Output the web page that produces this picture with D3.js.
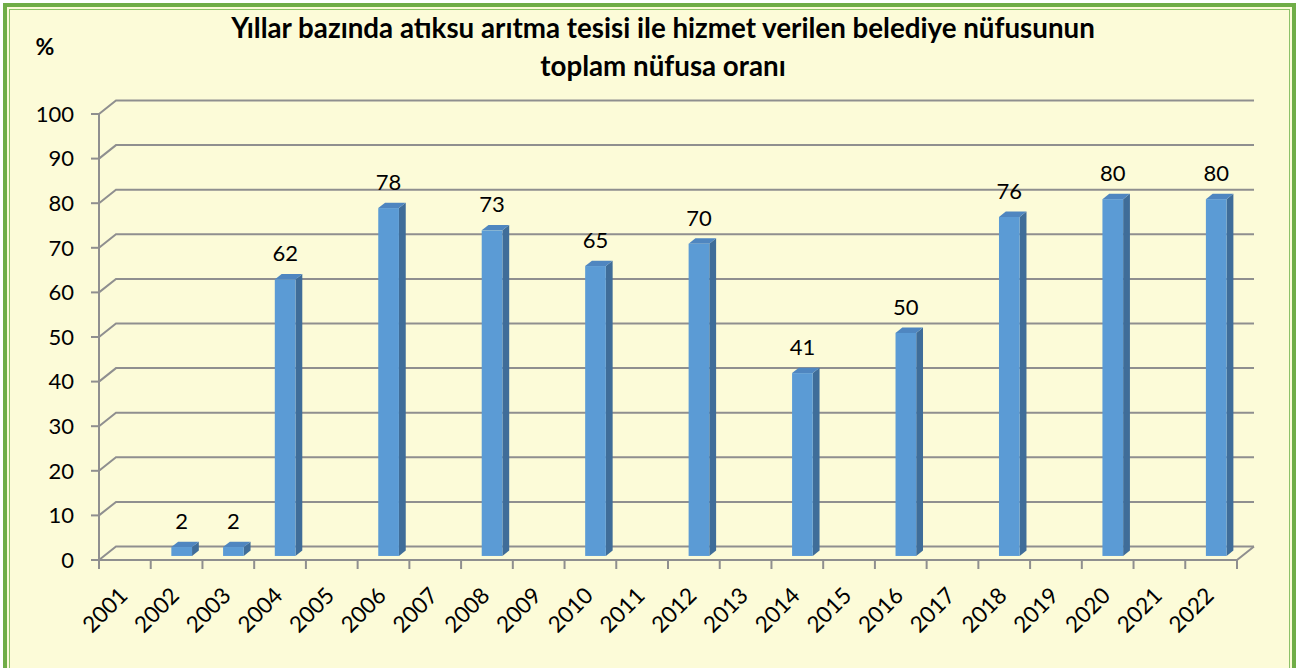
<!DOCTYPE html>
<html lang="tr">
<head>
<meta charset="utf-8">
<script src="https://cdn.jsdelivr.net/npm/d3@7"></script>
<style>
    body { margin: 0; background: #ffffff; }
    svg text { font-family: Lato, "Open Sans", sans-serif; fill: #000; }
</style>
</head>
<body>
<div id="chart"></div>
<script>
// Veri
const years = ['2001', '2002', '2003', '2004', '2005', '2006', '2007', '2008', '2009', '2010', '2011',
    '2012', '2013', '2014', '2015', '2016', '2017', '2018', '2019', '2020', '2021', '2022'];
const barYears = ['2002', '2003', '2004', '2006', '2008', '2010', '2012', '2014', '2016', '2018', '2020', '2022'];
const barValues = [2, 2, 62, 78, 73, 65, 70, 41, 50, 76, 80, 80];
const yTicks = [0, 10, 20, 30, 40, 50, 60, 70, 80, 90, 100];
const titleLines = ['Yıllar bazında atıksu arıtma tesisi ile hizmet verilen belediye nüfusunun', 'toplam nüfusa oranı'];
const yLabel = '%';

class Bar3D {
    constructor(_config, _data) {
        this.config = {
            parentElement: _config.parentElement,
            containerWidth: _config.containerWidth || 1301,
            containerHeight: _config.containerHeight || 668,
            plot: _config.plot || { left: 99, right: 1237, top: 114, bottom: 560 },
            depth: _config.depth || { dx: 17, dy: -13.5 }
        }
        this.data = _data;
        this.initVis();
    }

    initVis() {
        let vis = this;
        const p = vis.config.plot;

        vis.xScale = d3.scaleBand()
            .domain(years)
            .range([p.left, p.right]);

        vis.yScale = d3.scaleLinear()
            .domain([0, 100])
            .range([p.bottom, p.top]);

        vis.svg = d3.select(vis.config.parentElement)
            .append('svg')
            .attr('width', vis.config.containerWidth)
            .attr('height', vis.config.containerHeight);

        // arka plan + cerceve
        vis.svg.append('rect')
            .attr('x', 5).attr('y', 5)
            .attr('width', 1289).attr('height', 700)
            .attr('fill', '#fcfbd8')
            .attr('stroke', '#70ad47')
            .attr('stroke-width', 4);
        vis.svg.append('rect')
            .attr('x', 9.5).attr('y', 9.5)
            .attr('width', 1280).attr('height', 700)
            .attr('fill', 'none')
            .attr('stroke', '#8cc168')
            .attr('stroke-width', 1);

        vis.chart = vis.svg.append('g');

        // Baslik
        vis.title = vis.svg.append('g');
        titleLines.forEach((t, i) => {
            vis.title.append('text')
                .attr('x', 663)
                .attr('y', 38 + i * 38)
                .attr('text-anchor', 'middle')
                .attr('font-weight', 'bold')
                .attr('font-size', 21)
                .text(t);
        });
        // ilk satiri 864px genislige oturt
        const first = vis.title.select('text').node();
        const fs = 21 * 864 / first.getComputedTextLength();
        vis.title.selectAll('text').attr('font-size', fs);

        vis.svg.append('text')
            .attr('x', 45)
            .attr('y', 55)
            .attr('text-anchor', 'middle')
            .attr('font-weight', 'bold')
            .attr('font-size', 23)
            .text(yLabel);
    }

    updateVis() {
        let vis = this;
        vis.xValue = d => d.year;
        vis.yValue = d => d.value;
        vis.renderVis();
    }

    renderVis() {
        let vis = this;
        const p = vis.config.plot;
        const dx = vis.config.depth.dx, dy = vis.config.depth.dy;
        const grid = '#8f8f8f';

        // Yatay izgara (sol duvar + arka duvar)
        const gridG = vis.chart.append('g');
        gridG.selectAll('.grid')
            .data(yTicks)
            .join('path')
            .attr('class', 'grid')
            .attr('fill', 'none')
            .attr('stroke', grid)
            .attr('stroke-width', 2)
            .attr('d', d => {
                const y = vis.yScale(d);
                return `M${p.left},${y}L${p.left + dx},${y + dy}L${p.right + dx},${y + dy}`;
            });

        // Taban: on kenar ve sag kenar
        gridG.append('path')
            .attr('fill', 'none')
            .attr('stroke', grid)
            .attr('stroke-width', 2)
            .attr('d', `M${p.left},${p.bottom}L${p.right},${p.bottom}L${p.right + dx},${p.bottom + dy}`);

        // Y ekseni dikey cizgi + tikler
        gridG.append('line')
            .attr('x1', p.left).attr('x2', p.left)
            .attr('y1', p.bottom).attr('y2', vis.yScale(100))
            .attr('stroke', grid).attr('stroke-width', 2);
        gridG.selectAll('.ytick')
            .data(yTicks)
            .join('line')
            .attr('class', 'ytick')
            .attr('x1', p.left - 8).attr('x2', p.left)
            .attr('y1', d => vis.yScale(d)).attr('y2', d => vis.yScale(d))
            .attr('stroke', grid).attr('stroke-width', 2);

        // X ekseni tikleri (kategori sinirlari)
        const bounds = years.map(y => vis.xScale(y)).concat([p.right]);
        gridG.selectAll('.xtick')
            .data(bounds)
            .join('line')
            .attr('class', 'xtick')
            .attr('x1', d => d).attr('x2', d => d)
            .attr('y1', p.bottom).attr('y2', p.bottom + 9)
            .attr('stroke', grid).attr('stroke-width', 2);

        // Y etiketleri
        vis.chart.selectAll('.ylabel')
            .data(yTicks)
            .join('text')
            .attr('class', 'ylabel')
            .attr('x', 74)
            .attr('y', d => vis.yScale(d))
            .attr('dy', '0.35em')
            .attr('text-anchor', 'end')
            .attr('font-size', 22)
            .text(d => d);

        // X etiketleri
        vis.chart.selectAll('.xlabel')
            .data(years)
            .join('text')
            .attr('class', 'xlabel')
            .attr('text-anchor', 'end')
            .attr('font-size', 22.5)
            .attr('transform', d => `translate(${vis.xScale(d) + vis.xScale.bandwidth() / 2 + 4},597) rotate(-45)`)
            .text(d => d);

        // 3B cubuklar
        const bw = vis.xScale.bandwidth();
        const f0 = 0.3, f1 = 0.7;
        const barW = bw * 0.4;
        const sx = dx * (f1 - f0), sy = dy * (f1 - f0);
        const frontX = d => vis.xScale(vis.xValue(d)) + bw * 0.3 + dx * f0;
        const baseY = p.bottom + dy * f0;
        const topY = d => vis.yScale(vis.yValue(d)) + dy * f0;

        const bars = vis.chart.selectAll('.bar')
            .data(vis.data, vis.xValue)
            .join('g')
            .attr('class', 'bar');

        bars.append('path')
            .attr('fill', '#3f6d99')
            .attr('d', d => {
                const x = frontX(d) + barW, t = topY(d);
                return `M${x},${baseY}L${x + sx},${baseY + sy}L${x + sx},${t + sy}L${x},${t}Z`;
            });
        bars.append('path')
            .attr('fill', '#4f86c0')
            .attr('d', d => {
                const x = frontX(d), t = topY(d);
                return `M${x},${t}L${x + sx},${t + sy}L${x + barW + sx},${t + sy}L${x + barW},${t}Z`;
            });
        bars.append('rect')
            .attr('fill', '#5b9bd5')
            .attr('x', d => frontX(d))
            .attr('y', d => topY(d))
            .attr('width', barW)
            .attr('height', d => baseY - topY(d));

        bars.append('text')
            .attr('x', d => frontX(d) + barW / 2)
            .attr('y', d => topY(d) - 18)
            .attr('text-anchor', 'middle')
            .attr('font-size', 22)
            .text(d => vis.yValue(d));
    }
}

const data = barYears.map((y, i) => ({ year: y, value: barValues[i] }));
const chart = new Bar3D({ parentElement: '#chart' }, data);
chart.updateVis();
</script>
</body>
</html>
